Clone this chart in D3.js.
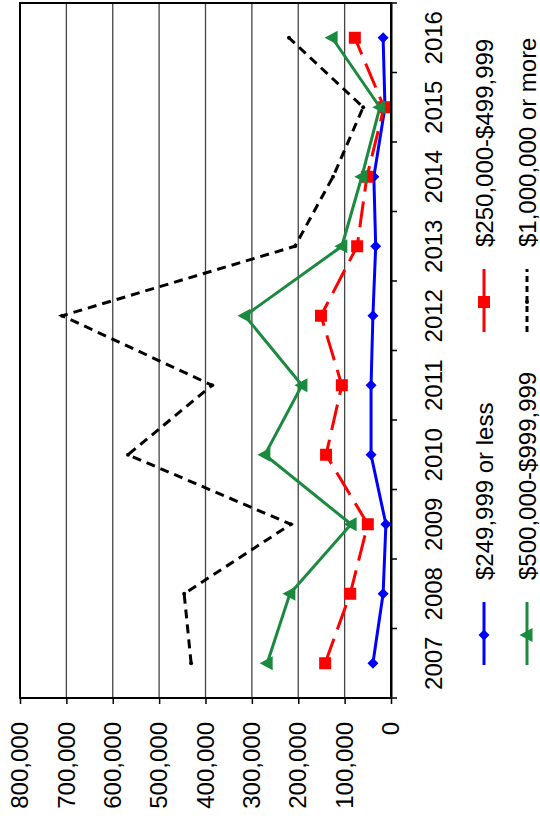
<!DOCTYPE html>
<html><head><meta charset="utf-8">
<script src="https://cdn.jsdelivr.net/npm/d3@7"></script>
<style>body{margin:0;background:#fff}svg{display:block}text{font-family:"Liberation Sans",Arial,sans-serif;fill:#000}</style>
</head><body>
<script>
const years = ["2007","2008","2009","2010","2011","2012","2013","2014","2015","2016"];
const seriesNames = ["$249,999 or less","$250,000-$499,999","$500,000-$999,999","$1,000,000 or more"];
const under250k   = [39000, 17000, 11000, 43000, 43000, 39000, 33000, 37000, 13000, 17000];
const from250to500k = [142000, 88000, 50000, 140000, 106000, 151000, 73000, 52000, 15000, 78000];
const from500kto1m  = [267000, 218000, 86000, 272000, 192000, 315000, 106000, 63000, 24000, 127000];
const over1m        = [431000, 446000, 216000, 567000, 386000, 709000, 207000, 125000, 60000, 220000];
const valueTicks = [0,100000,200000,300000,400000,500000,600000,700000,800000];

const seriesValues = [under250k, from250to500k, from500kto1m, over1m];
const colors = ["#0000ff","#ff0000","#1a8a3e","#000000"];
const dashes = [null,"26,10",null,"9,6"];
const legendDashes = [null,null,null,"6,4"];
const markers = ["diamond","square","triangle","dot"];

const svg = d3.select("body").append("svg").attr("width",540).attr("height",820);
// chart drawn in an 820x540 frame, rotated 90° counter-clockwise
const g = svg.append("g").attr("transform","translate(0,820) rotate(-90)");

const x = d3.scaleBand().domain(years).range([122,817]);
const y = d3.scaleLinear().domain([0,800000]).range([391,20]);

// gridlines
g.append("g").selectAll("line").data(valueTicks).join("line")
  .attr("x1",122).attr("x2",817).attr("y1",d=>y(d)).attr("y2",d=>y(d))
  .attr("stroke","#444").attr("stroke-width",1.3);
// frame
g.append("rect").attr("x",122).attr("y",y(800000)).attr("width",817-122).attr("height",y(0)-y(800000))
  .attr("fill","none").attr("stroke","#000").attr("stroke-width",2);

// value axis
const ya = g.append("g").attr("transform","translate(122,0)")
  .call(d3.axisLeft(y).tickValues(valueTicks).tickFormat(d3.format(",")).tickSize(6).tickPadding(18));
ya.select(".domain").remove();
ya.selectAll("line").attr("stroke","#000").attr("stroke-width",1.5);
ya.selectAll("text").attr("font-size",24).attr("font-family","Liberation Sans, Arial, sans-serif");

// category axis
const xa = g.append("g").attr("transform","translate(0,391)")
  .call(d3.axisBottom(x).tickSize(0).tickPadding(34));
xa.select(".domain").attr("stroke","#000").attr("stroke-width",2);
xa.selectAll("text").attr("font-size",24).attr("font-family","Liberation Sans, Arial, sans-serif");
const bounds = years.map(d=>x(d)).concat([x(years[years.length-1])+x.step()]);
xa.selectAll("line.bt").data(bounds).join("line").attr("class","bt")
  .attr("x1",d=>d).attr("x2",d=>d).attr("y1",0).attr("y2",6)
  .attr("stroke","#000").attr("stroke-width",1.5);

function drawMarker(sel, type, color){
  if(type==="diamond") sel.append("path").attr("d","M0,-5.5L5.5,0L0,5.5L-5.5,0Z").attr("fill",color);
  else if(type==="square") sel.append("rect").attr("x",-6).attr("y",-6).attr("width",12).attr("height",12).attr("fill",color);
  else if(type==="triangle") sel.append("path").attr("d","M0,-7.5L7,5.5L-7,5.5Z").attr("fill",color);
  else sel.append("circle").attr("r",2).attr("fill",color);
}

const line = d3.line().x((d,i)=>x(years[i])+x.bandwidth()/2).y(d=>y(d));
seriesValues.forEach((vals,k)=>{
  const sg = g.append("g");
  sg.append("path").attr("d",line(vals)).attr("fill","none").attr("stroke",colors[k])
    .attr("stroke-width",3).attr("stroke-dasharray",dashes[k]).attr("stroke-linejoin","miter");
  sg.selectAll("g.m").data(vals).join("g").attr("class","m")
    .attr("transform",(d,i)=>`translate(${x(years[i])+x.bandwidth()/2},${y(d)})`)
    .each(function(){ drawMarker(d3.select(this), markers[k], colors[k]); });
});

// legend
const legendPos = [
  {u:155, v:484}, {u:488, v:484}, {u:155, v:527}, {u:488, v:527}
];
seriesNames.forEach((name,k)=>{
  const p = legendPos[k];
  const lg = g.append("g").attr("transform",`translate(${p.u},${p.v})`);
  lg.append("line").attr("x1",0).attr("x2",63).attr("y1",0).attr("y2",0)
    .attr("stroke",colors[k]).attr("stroke-width",3).attr("stroke-dasharray",legendDashes[k]);
  const mg = lg.append("g").attr("transform","translate(30,0)");
  drawMarker(mg, markers[k], colors[k]);
  lg.append("text").attr("x",85).attr("y",9).attr("font-size",24).text(name);
});
</script>
</body></html>
